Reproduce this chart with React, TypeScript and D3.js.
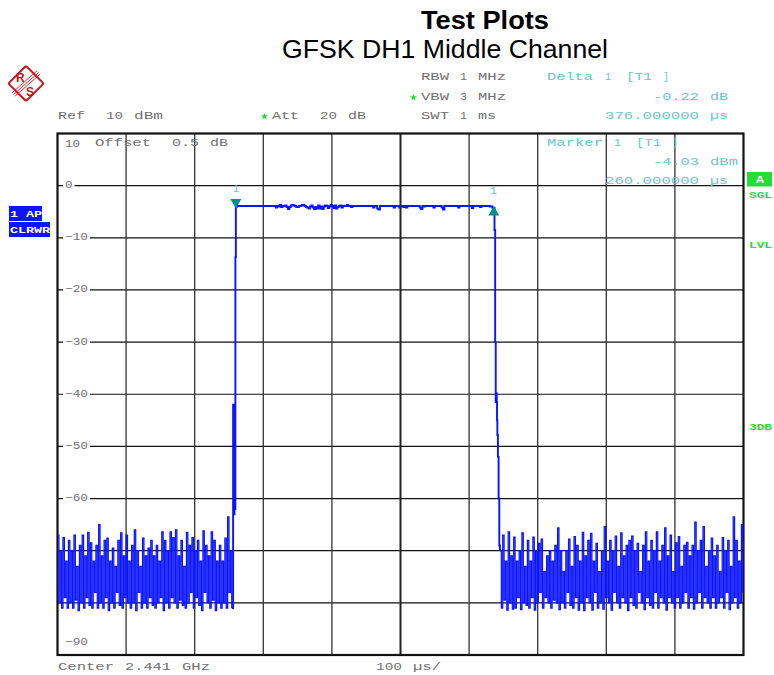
import React from "react";
import * as d3 from "d3";

// trace sampled every 2 µs; values in dBm
const noiseBefore = [
  -67,-80,-70,-81,-67.5,-79,-72,-81,-68,-80,
  -70,-81,-67,-79.5,-73,-81.5,-69,-80,-67,-81,
  -71,-79,-66.5,-80.5,-68.5,-81,-72,-78,-69,-81,
  -65,-80,-71,-81,-68,-79,-67.6,-81.5,-72,-80,
  -69.5,-81,-73,-78,-68,-80.5,-66.6,-81,-71,-79,
  -67,-80,-72,-81,-69,-80,-66,-81.5,-70,-78,
  -73,-81,-67.6,-80,-71,-81,-69.5,-79,-68,-80.5,
  -71,-81,-69,-80,-72,-79,-66.4,-81.5,-68,-80,
  -70,-81,-66.4,-79,-67.5,-80,-66,-81,-71,-79.5,
  -68,-80.5,-73,-81,-66.5,-80,-69,-78,-67.5,-81,
  -70,-79,-68,-80.5,-72,-81.5,-66.2,-78,-69,-80,
  -71,-81,-66.4,-79.5,-68,-81.5,-72,-80,-69,-81,
  -72,-80,-67.6,-81,-63.5,-78,-70,-81,
];
const riseTimes = [256, 257, 258, 258.7, 259.3];
const riseValues = [-42, -63, -43, -62, -13.7];
const plateau = [
  -4.03,-3.9,-3.9,-3.9,-3.9,-3.9,-3.9,-3.9,-3.9,-3.9,
  -3.9,-3.9,-3.9,-3.9,-3.9,-3.9,-3.9,-3.9,-3.9,-3.9,
  -3.9,-3.9,-3.9,-3.9,-3.9,-3.9,-3.9,-3.9,-3.9,-4.2,
  -3.9,-4,-3.7,-4.1,-3.9,-3.9,-3.8,-4.1,-4.5,-4.1,
  -3.8,-3.7,-3.8,-3.9,-4.1,-4.1,-3.9,-3.9,-3.7,-3.7,
  -3.9,-4.1,-4.2,-4.4,-4,-3.8,-4.2,-4.5,-4.1,-4.4,
  -3.8,-4.4,-4,-4.5,-4,-3.8,-3.9,-4.3,-4,-3.7,
  -3.9,-4.3,-3.8,-4.4,-4.1,-3.9,-3.8,-4.2,-3.9,-3.9,
  -3.9,-3.7,-3.9,-3.9,-4.1,-3.9,-3.9,-3.9,-3.9,-3.9,
  -3.9,-3.9,-3.9,-3.9,-3.9,-3.9,-3.9,-3.9,-3.9,-3.9,
  -4.2,-3.9,-3.9,-4.4,-4.6,-3.9,-3.9,-3.9,-3.9,-3.9,
  -3.9,-3.9,-3.9,-3.9,-3.9,-4.2,-3.9,-3.9,-3.9,-4.2,
  -3.9,-3.9,-4.1,-3.9,-4.2,-3.9,-3.9,-3.9,-3.9,-3.9,
  -3.9,-3.9,-3.9,-3.9,-4.2,-4.5,-3.9,-4,-3.9,-3.9,
  -3.9,-3.9,-3.9,-3.9,-4.2,-3.9,-3.9,-3.9,-3.9,-3.9,
  -4.2,-4.6,-3.9,-3.9,-3.9,-3.9,-3.9,-3.9,-3.9,-3.9,
  -3.9,-3.9,-4.2,-3.9,-3.9,-3.9,-3.9,-3.9,-3.9,-3.9,
  -3.9,-3.9,-4.3,-3.9,-3.9,-3.9,-3.9,-3.9,-4.1,-3.9,
  -3.9,-3.9,-3.9,-3.9,-3.9,-4,-4,-4.25,
];
const fallTimes = [637, 638, 638.8, 639.5, 640.3, 640.7, 641.2, 642, 643, 644];
const fallValues = [-8.5, -30, -41.5, -39.8, -41.5, -45, -47.8, -52, -60, -69];
const noiseAfter = [
  -70,-81,-67,-79.5,-72,-81.4,-66.4,-80,-71,-81.2,
  -67.4,-81,-72,-79,-70,-81.3,-66.6,-80,-73,-80.5,
  -68,-81,-72,-79,-67.4,-81.4,-70,-80,-68.6,-78,
  -67.8,-81,-74,-79,-71,-80,-70,-81,-72,-79.5,
  -69,-80,-65.6,-81.3,-70,-80,-74,-81,-70,-78,
  -67.8,-80.5,-73,-81,-67.3,-79,-69,-81.4,-72,-80,
  -66.5,-81.5,-71,-79,-68,-80,-66.7,-81.4,-72,-78,
  -68.6,-81,-74,-80,-70,-81.2,-65.4,-79,-72,-80,
  -68,-81.4,-70,-78,-67.2,-80,-73,-81,-66.6,-79,
  -71,-80,-69,-81.5,-68,-79,-67.2,-80.5,-70,-81,
  -68.6,-78,-74,-80,-69,-81.3,-66.4,-79,-72,-80.5,
  -68,-81,-70,-78,-66.4,-81,-72,-79,-69,-80,
  -65.6,-81.4,-71,-79,-67,-80,-74,-81,-68.5,-79,
  -67.3,-81,-73,-80,-69,-78,-68.4,-81,-71,-79,
  -69,-81.2,-64.5,-80,-70,-78,-68,-81,-65.4,-79,
  -73,-80,-70,-81,-67.6,-79,-71,-81,-69,-80,
  -74,-79,-67.5,-81,-70,-78,-68,-81.3,-73,-80,
  -63.5,-79,-68,-81,-72,-80,-65,-78,
];
const timeGrid = [100, 200, 300, 400, 500, 600, 700, 800, 900];
const levelGrid = [0, -10, -20, -30, -40, -50, -60, -70, -80];
const levelLabels = [0, -10, -20, -30, -40, -50, -60];
const markerTime = 260;
const markerLevel = -4.03;
const deltaTime = 636;
const deltaLevel = -4.25;

const x = d3.scaleLinear().domain([0, 1000]).range([57.5, 743.5]);
const y = d3.scaleLinear().domain([10, -90]).range([133.5, 655]);

type Pt = [number, number];
const beforePts = noiseBefore.map((v, i): Pt => [i * 2, v]);
const afterPts = noiseAfter.map((v, i): Pt => [645 + i * 2, v]);
const mainPts: Pt[] = [
  beforePts[beforePts.length - 1],
  ...riseValues.map((v, i): Pt => [riseTimes[i], v]),
  ...plateau.map((v, i): Pt => [260 + i * 2, v]),
  ...fallValues.map((v, i): Pt => [fallTimes[i], v]),
  afterPts[0],
];
const linePath = d3
  .line<Pt>()
  .x((d) => x(d[0]))
  .y((d) => y(d[1]))
  .curve(d3.curveStepAfter);

const GRAY = "#707070";
const TEAL = "#6cc4c4";
const GREEN = "#22dd33";
const BLUE = "#0a14ff";
const MONO = "'Liberation Mono', monospace";
const SANS = "'Liberation Sans', Arial, sans-serif";

function W({ t, x0, x1, b, c = GRAY, bold = false, size = 10.5 }: { t: string; x0: number; x1: number; b: number; c?: string; bold?: boolean; size?: number }) {
  return (
    <text x={x0} y={b} fill={c} fontFamily={MONO} fontSize={size} fontWeight={bold ? 700 : 400} textLength={x1 - x0} lengthAdjust="spacingAndGlyphs">
      {t}
    </text>
  );
}

function Star({ cx, cy }: { cx: number; cy: number }) {
  const p = d3.symbol().type(d3.symbolStar).size(16)();
  return <path d={p || ""} transform={`translate(${cx},${cy})`} fill={GREEN} />;
}

function Logo() {
  return (
    <g transform="translate(26,83.5)">
      <rect x={-12.5} y={-12.5} width={25} height={25} rx={2} transform="rotate(45)" fill="#fff" stroke="#c8161d" strokeWidth={2} />
      {[-1.6, 0, 1.6].map((o) => (
        <line key={o} x1={-12.5 + o} y1={11 + o} x2={12.5 + o} y2={-11 + o} stroke="#c8161d" strokeWidth={0.9} />
      ))}
      <text x={-10} y={-1.5} fontFamily={SANS} fontSize={12} fontWeight={700} fill="#c8161d">R</text>
      <text x={0} y={12} fontFamily={SANS} fontSize={12} fontWeight={700} fill="#c8161d">S</text>
    </g>
  );
}

export default function App() {
  return (
    <svg width={774} height={675} style={{ position: "absolute", left: 0, top: 0, background: "#fff" }}>
      <text x={421} y={29} fontFamily={SANS} fontWeight={700} fontSize={25} fill="#000" textLength={128} lengthAdjust="spacingAndGlyphs">Test Plots</text>
      <text x={282} y={58} fontFamily={SANS} fontSize={26} fill="#000" textLength={326} lengthAdjust="spacingAndGlyphs">GFSK DH1 Middle Channel</text>
      <Logo />

      {/* header */}
      <W t="RBW" x0={421} x1={449} b={80} /><W t="1" x0={460} x1={467} b={80} /><W t="MHz" x0={478} x1={506} b={80} />
      <Star cx={413.5} cy={97.5} />
      <W t="VBW" x0={421} x1={449} b={100} /><W t="3" x0={460} x1={467} b={100} /><W t="MHz" x0={478} x1={506} b={100} />
      <W t="SWT" x0={421} x1={449} b={119} /><W t="1" x0={460} x1={467} b={119} /><W t="ms" x0={478} x1={496} b={119} />
      <W t="Ref" x0={58} x1={85} b={119} /><W t="10" x0={106} x1={123} b={119} /><W t="dBm" x0={134} x1={163} b={119} />
      <Star cx={264.5} cy={116.5} />
      <W t="Att" x0={272} x1={299} b={119} /><W t="20" x0={320} x1={337} b={119} /><W t="dB" x0={348} x1={366} b={119} />

      <W t="Delta" x0={547} x1={593} b={80} c={TEAL} /><W t="1" x0={605} x1={611} b={80} c={TEAL} /><W t="[T1" x0={626} x1={652} b={80} c={TEAL} /><W t="]" x0={663} x1={669} b={80} c={TEAL} />
      <W t="-0.22" x0={653} x1={699} b={100} c={TEAL} /><W t="dB" x0={710} x1={728} b={100} c={TEAL} />
      <W t="376.000000" x0={605} x1={699} b={119} c={TEAL} /><W t="µs" x0={710} x1={728} b={119} c={TEAL} />

      {/* grid */}
      {levelGrid.map((v) => (
        <line key={v} x1={x(0)} x2={x(1000)} y1={y(v)} y2={y(v)} stroke="#111" strokeWidth={1.2} />
      ))}
      {timeGrid.map((t) => (
        <line key={t} x1={x(t)} x2={x(t)} y1={y(10)} y2={y(-90)} stroke={t === 500 ? "#222" : "#333"} strokeWidth={t === 500 ? 2 : 1.3} />
      ))}
      <rect x={x(0)} y={y(10)} width={x(1000) - x(0)} height={y(-90) - y(10)} fill="none" stroke="#111" strokeWidth={2.2} />

      {/* in-plot text */}
      <W t="10" x0={65} x1={80} b={147} />
      <W t="Offset" x0={95} x1={151} b={146} /><W t="0.5" x0={172} x1={199} b={146} /><W t="dB" x0={210} x1={228} b={146} />
      <W t="Marker" x0={547} x1={603} b={146} c={TEAL} /><W t="1" x0={614} x1={621} b={146} c={TEAL} /><W t="[T1" x0={636} x1={661} b={146} c={TEAL} /><W t="]" x0={672} x1={678} b={146} c={TEAL} />
      <W t="-4.03" x0={653} x1={699} b={165} c={TEAL} /><W t="dBm" x0={710} x1={738} b={165} c={TEAL} />
      <W t="260.000000" x0={605} x1={699} b={184} c={TEAL} /><W t="µs" x0={710} x1={728} b={184} c={TEAL} />

      {levelLabels.map((v) => {
        const s = v === 0 ? "0" : `−${-v}`;
        const w = v === 0 ? 7.5 : 23;
        return (
          <g key={v}>
            <rect x={63} y={y(v) - 1.5} width={w + 4} height={3} fill="#fff" />
            <W t={s} x0={65} x1={65 + w} b={y(v) + 2.5} />
          </g>
        );
      })}
      <W t="−90" x0={65} x1={88} b={645} />

      {/* trace */}
      <path d={linePath(beforePts) || ""} fill="none" stroke={BLUE} strokeWidth={1.25} />
      <path d={linePath(afterPts) || ""} fill="none" stroke={BLUE} strokeWidth={1.25} />
      <path d={linePath(mainPts) || ""} fill="none" stroke={BLUE} strokeWidth={1.9} />

      {/* markers */}
      <path d={d3.symbol().type(d3.symbolTriangle).size(52)() || ""} transform={`translate(${x(markerTime)},${y(markerLevel) - 4.6}) rotate(180)`} fill="#009090" />
      <path d={d3.symbol().type(d3.symbolTriangle).size(52)() || ""} transform={`translate(${x(deltaTime)},${y(deltaLevel) + 4.6})`} fill="#009090" />
      <W t="1" x0={233} x1={239} b={192} c={TEAL} />
      <W t="1" x0={490} x1={497} b={194} c={TEAL} />

      {/* bottom */}
      <W t="Center" x0={58} x1={114} b={670} /><W t="2.441" x0={125} x1={171} b={670} /><W t="GHz" x0={182} x1={210} b={670} />
      <W t="100" x0={376} x1={402} b={670} /><W t="µs/" x0={413} x1={441} b={670} />

      {/* left boxes */}
      <rect x={9} y={206} width={33} height={15} fill={BLUE} />
      <W t="1 AP" x0={10} x1={42} b={216.5} c="#fff" bold size={9.5} />
      <rect x={9} y={222} width={41} height={15} fill={BLUE} />
      <W t="CLRWR" x0={10} x1={50} b={232.5} c="#fff" bold size={9.5} />

      {/* right boxes */}
      <rect x={747} y={172} width={25} height={14.5} fill={GREEN} />
      <W t="A" x0={756} x1={764} b={183} c="#fff" bold />
      <W t="SGL" x0={749} x1={772} b={198} c={GREEN} bold size={9.5} />
      <W t="LVL" x0={749} x1={772} b={248} c={GREEN} bold size={9.5} />
      <W t="3DB" x0={749} x1={772} b={430} c={GREEN} bold size={9.5} />
    </svg>
  );
}
